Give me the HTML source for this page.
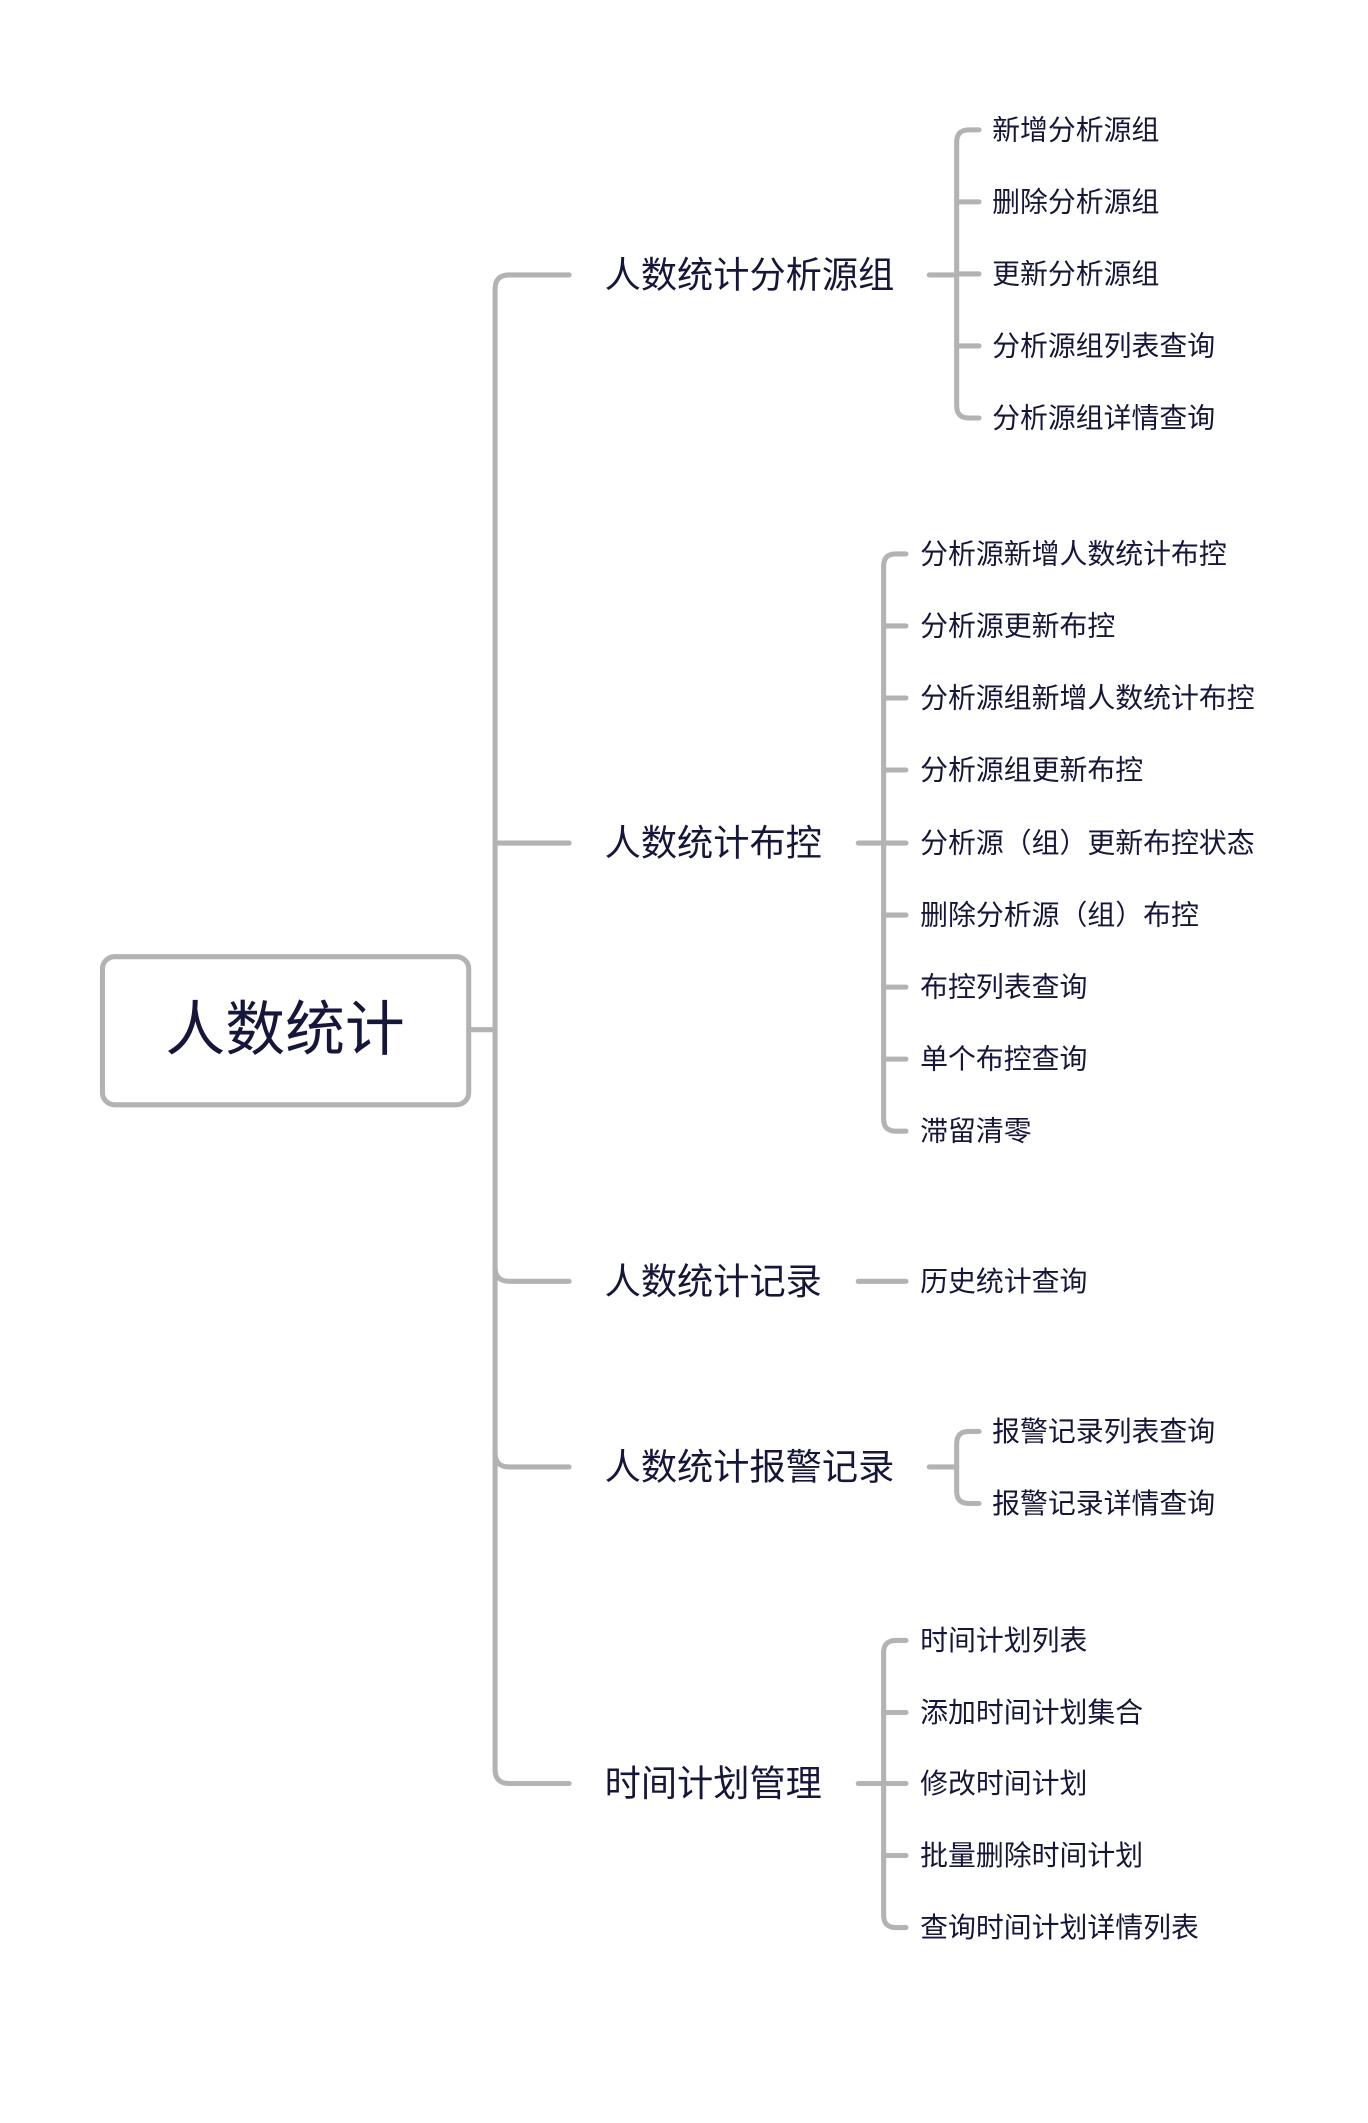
<!DOCTYPE html>
<html><head><meta charset="utf-8"><style>
html,body{margin:0;padding:0;background:#fff;}
svg{display:block;}
text{font-family:"Liberation Sans","Noto Sans CJK SC",sans-serif;fill:#16163a;dominant-baseline:central;}
.l1{font-size:35.7px;}
.l2{font-size:27.5px;}
path,line{stroke:#b3b3b3;stroke-width:5;fill:none;stroke-linecap:round;}
</style></head><body>
<svg width="1368" height="2123" viewBox="0 0 1368 2123" xmlns="http://www.w3.org/2000/svg">
<g transform="scale(1.0145)">
<rect x="101" y="943" width="361" height="146" rx="12" fill="#fff" stroke="#b3b3b3" stroke-width="5"/>
<text x="281" y="1015" font-size="59" text-anchor="middle">人数统计</text>
<line x1="462" y1="1015" x2="488" y2="1015"/>
<path d="M561 271 H502 Q488 271 488 285 V1744 Q488 1758 502 1758 H561"/>
<line x1="488" y1="831" x2="561" y2="831"/>
<path d="M488 1249 Q488 1263 502 1263 H561"/>
<path d="M488 1432 Q488 1446 502 1446 H561"/>
<text class="l1" x="596" y="271">人数统计分析源组</text>
<text class="l1" x="596" y="831">人数统计布控</text>
<text class="l1" x="596" y="1263">人数统计记录</text>
<text class="l1" x="596" y="1446">人数统计报警记录</text>
<text class="l1" x="596" y="1758">时间计划管理</text>
<line x1="916" y1="271" x2="943" y2="271"/>
<path d="M965 128 H955 Q943 128 943 140 V400 Q943 412 955 412 H965"/>
<line x1="943" y1="199" x2="965" y2="199"/><line x1="943" y1="270" x2="965" y2="270"/><line x1="943" y1="341" x2="965" y2="341"/>
<text class="l2" x="978" y="128">新增分析源组</text>
<text class="l2" x="978" y="199">删除分析源组</text>
<text class="l2" x="978" y="270">更新分析源组</text>
<text class="l2" x="978" y="341">分析源组列表查询</text>
<text class="l2" x="978" y="412">分析源组详情查询</text>
<line x1="846" y1="831" x2="871" y2="831"/>
<path d="M893 546 H883 Q871 546 871 558 V1103 Q871 1115 883 1115 H893"/>
<line x1="871" y1="617" x2="893" y2="617"/><line x1="871" y1="688" x2="893" y2="688"/><line x1="871" y1="759" x2="893" y2="759"/><line x1="871" y1="831" x2="893" y2="831"/><line x1="871" y1="902" x2="893" y2="902"/><line x1="871" y1="973" x2="893" y2="973"/><line x1="871" y1="1044" x2="893" y2="1044"/>
<text class="l2" x="907" y="546">分析源新增人数统计布控</text>
<text class="l2" x="907" y="617">分析源更新布控</text>
<text class="l2" x="907" y="688">分析源组新增人数统计布控</text>
<text class="l2" x="907" y="759">分析源组更新布控</text>
<text class="l2" x="907" y="831">分析源（组）更新布控状态</text>
<text class="l2" x="907" y="902">删除分析源（组）布控</text>
<text class="l2" x="907" y="973">布控列表查询</text>
<text class="l2" x="907" y="1044">单个布控查询</text>
<text class="l2" x="907" y="1115">滞留清零</text>
<line x1="846" y1="1263" x2="893" y2="1263"/>
<text class="l2" x="907" y="1263">历史统计查询</text>
<line x1="916" y1="1446" x2="943" y2="1446"/>
<path d="M965 1411 H955 Q943 1411 943 1423 V1470 Q943 1482 955 1482 H965"/>
<text class="l2" x="978" y="1411">报警记录列表查询</text>
<text class="l2" x="978" y="1482">报警记录详情查询</text>
<line x1="846" y1="1758" x2="871" y2="1758"/>
<path d="M893 1617 H883 Q871 1617 871 1629 V1888 Q871 1900 883 1900 H893"/>
<line x1="871" y1="1688" x2="893" y2="1688"/><line x1="871" y1="1758" x2="893" y2="1758"/><line x1="871" y1="1829" x2="893" y2="1829"/>
<text class="l2" x="907" y="1617">时间计划列表</text>
<text class="l2" x="907" y="1688">添加时间计划集合</text>
<text class="l2" x="907" y="1758">修改时间计划</text>
<text class="l2" x="907" y="1829">批量删除时间计划</text>
<text class="l2" x="907" y="1900">查询时间计划详情列表</text>
</g>
</svg>
</body></html>
